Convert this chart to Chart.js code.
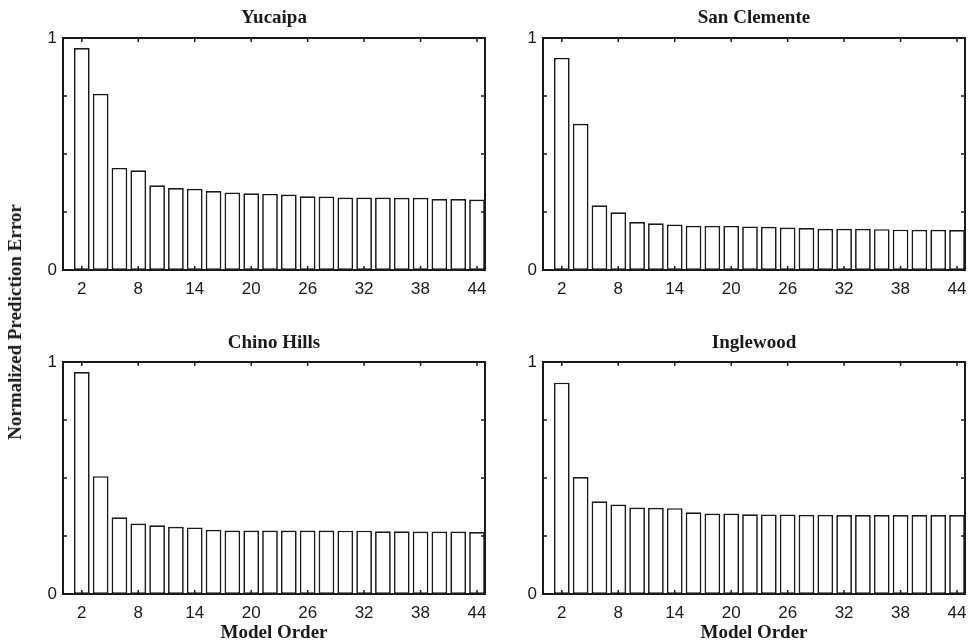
<!DOCTYPE html>
<html>
<head>
<meta charset="utf-8">
<script src="https://cdn.jsdelivr.net/npm/chart.js@4.4.1/dist/chart.umd.min.js"></script>
<style>
  html, body { margin: 0; padding: 0; background: #fff; }
  body { width: 970px; height: 644px; position: relative; overflow: hidden; }
  .panel { position: absolute; width: 490px; height: 300px; }
  .label {
    position: absolute;
    font-family: 'Liberation Serif', 'Times New Roman', serif;
    font-weight: bold;
    font-size: 19px;
    color: #1a1a1a;
    white-space: nowrap;
    transform: translate(-50%, -50%);
  }
  #ylabel { transform: translate(-50%, -50%) rotate(-90deg); }
</style>
</head>
<body>
<div class="panel" style="left:0;top:0"><canvas id="c1"></canvas></div>
<div class="panel" style="left:480px;top:0"><canvas id="c2"></canvas></div>
<div class="panel" style="left:0;top:324px"><canvas id="c3"></canvas></div>
<div class="panel" style="left:480px;top:324px"><canvas id="c4"></canvas></div>

<div class="label" style="left:274px;top:17px">Yucaipa</div>
<div class="label" style="left:754px;top:17px">San Clemente</div>
<div class="label" style="left:274px;top:342px">Chino Hills</div>
<div class="label" style="left:754px;top:342px">Inglewood</div>
<div class="label" style="left:274px;top:632px">Model Order</div>
<div class="label" style="left:754px;top:632px">Model Order</div>
<div class="label" id="ylabel" style="left:15px;top:322px">Normalized Prediction Error</div>

<script>
const modelOrders = [2, 4, 6, 8, 10, 12, 14, 16, 18, 20, 22, 24, 26, 28, 30, 32, 34, 36, 38, 40, 42, 44];
const xTickValues = [2, 8, 14, 20, 26, 32, 38, 44];
const yTickValues = [0, 0.25, 0.5, 0.75, 1];
const yTickLabels = ['0', '', '', '', '1'];

const yucaipa = [0.957, 0.760, 0.440, 0.430, 0.365, 0.353, 0.350, 0.340, 0.334, 0.331, 0.328,
  0.325, 0.318, 0.317, 0.312, 0.312, 0.312, 0.311, 0.311, 0.306, 0.306, 0.304];
const sanClemente = [0.915, 0.630, 0.279, 0.249, 0.207, 0.201, 0.196, 0.191, 0.190, 0.190, 0.188,
  0.186, 0.183, 0.181, 0.178, 0.178, 0.178, 0.176, 0.174, 0.173, 0.173, 0.172];
const chinoHills = [0.957, 0.508, 0.331, 0.304, 0.296, 0.290, 0.287, 0.277, 0.274, 0.274, 0.274,
  0.274, 0.274, 0.274, 0.273, 0.273, 0.270, 0.270, 0.269, 0.269, 0.269, 0.267];
const inglewood = [0.911, 0.504, 0.400, 0.386, 0.373, 0.372, 0.370, 0.352, 0.347, 0.347, 0.344,
  0.343, 0.343, 0.341, 0.341, 0.340, 0.340, 0.340, 0.340, 0.340, 0.340, 0.340];

const TICK_FONT = { family: "'Liberation Sans', Arial, sans-serif", size: 17 };
const INK = '#1a1a1a';

// box around the plot area with inward tick marks, matlab style
const boxPlugin = {
  id: 'boxPlugin',
  afterDraw(chart) {
    const { ctx, chartArea: a, scales } = chart;
    const len = 4;
    ctx.save();
    ctx.strokeStyle = INK;
    ctx.lineWidth = 1.5;
    ctx.beginPath();
    xTickValues.forEach(v => {
      const x = scales.x.getPixelForValue(v);
      ctx.moveTo(x, a.bottom); ctx.lineTo(x, a.bottom - len);
      ctx.moveTo(x, a.top); ctx.lineTo(x, a.top + len);
    });
    yTickValues.forEach(v => {
      const y = scales.y.getPixelForValue(v);
      ctx.moveTo(a.left, y); ctx.lineTo(a.left + len, y);
      ctx.moveTo(a.right, y); ctx.lineTo(a.right - len, y);
    });
    ctx.stroke();
    ctx.lineWidth = 2;
    ctx.strokeRect(a.left, a.top, a.right - a.left, a.bottom - a.top);
    ctx.restore();
  }
};

function makePanel(canvasId, values) {
  const points = modelOrders.map((order, i) => ({ x: order, y: values[i] }));
  return new Chart(document.getElementById(canvasId), {
    type: 'bar',
    data: {
      datasets: [{
        data: points,
        backgroundColor: '#ffffff',
        borderColor: INK,
        borderWidth: 1.7,
        borderSkipped: false,
        barPercentage: 0.835,
        categoryPercentage: 1,
      }],
    },
    options: {
      animation: false,
      responsive: true,
      maintainAspectRatio: false,
      layout: { padding: { top: 38, right: 5, left: 0, bottom: 0 } },
      scales: {
        x: {
          type: 'linear',
          min: 0,
          max: 44.85,
          offset: false,
          afterBuildTicks: scale => { scale.ticks = xTickValues.map(v => ({ value: v })); },
          afterFit: scale => {
            scale.height = 30;
            // let the last label hang past the box like the original
            scale.paddingLeft = 0;
            scale.paddingRight = 0;
          },
          grid: { display: false, drawTicks: false },
          border: { display: false },
          ticks: { color: INK, font: TICK_FONT, padding: 9, maxRotation: 0, autoSkip: false },
        },
        y: {
          min: 0,
          max: 1,
          afterBuildTicks: scale => { scale.ticks = yTickValues.map(v => ({ value: v })); },
          afterFit: scale => { scale.width = 63; },
          grid: { display: false, drawTicks: false },
          border: { display: false },
          ticks: {
            color: INK,
            font: TICK_FONT,
            padding: 6,
            autoSkip: false,
            callback: (value, index) => yTickLabels[index],
          },
        },
      },
      plugins: {
        legend: { display: false },
        tooltip: { enabled: false },
      },
    },
    plugins: [boxPlugin],
  });
}

makePanel('c1', yucaipa);
makePanel('c2', sanClemente);
makePanel('c3', chinoHills);
makePanel('c4', inglewood);
</script>
</body>
</html>
